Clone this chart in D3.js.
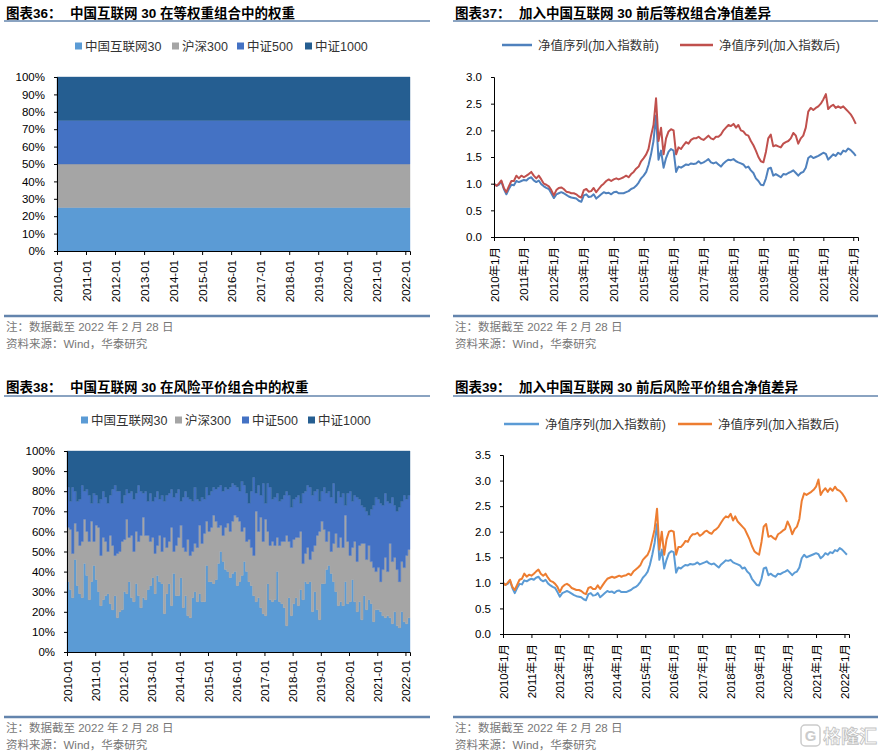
<!DOCTYPE html>
<html><head><meta charset="utf-8">
<script src="https://cdn.jsdelivr.net/npm/d3@7"></script>
<style>
body{margin:0;background:#fff}
svg{display:block}
text{font-family:"Liberation Sans","Noto Sans CJK SC",sans-serif}
</style>
</head><body>
<svg id="c" width="882" height="754"></svg>
<script>
// ---------------- DATA ----------------
const seriesNames = ["中国互联网30", "沪深300", "中证500", "中证1000"];
const tickLabelsDash = ["2010-01","2011-01","2012-01","2013-01","2014-01","2015-01","2016-01","2017-01","2018-01","2019-01","2020-01","2021-01","2022-01"];
const tickLabelsCn = ["2010年1月","2011年1月","2012年1月","2013年1月","2014年1月","2015年1月","2016年1月","2017年1月","2018年1月","2019年1月","2020年1月","2021年1月","2022年1月"];
const lineNames = ["净值序列(加入指数前)", "净值序列(加入指数后)"];

// Chart 36: equal-weight portfolio (start & end of period)
const eqDates = ["2010-01-01", "2022-03-01"];
const eqHlw30 = [25, 25];
const eqHs300 = [25, 25];
const eqZz500 = [25, 25];
const eqZz1000 = [25, 25];

// Chart 38: risk-parity weights (%), monthly 2010-01 .. 2022-02
const rpHlw30 = [
35,31,27,46,33,29,27,44,38,26,35,43,
36,30,23,26,28,29,24,21,28,17,20,21,
30,29,35,27,25,34,28,22,27,26,31,33,
37,29,38,35,34,19,29,34,23,39,28,28,
37,22,28,18,17,27,30,25,29,25,25,43,
35,35,34,36,44,50,45,41,40,37,39,40,
33,35,38,45,40,35,33,28,25,27,22,19,
18,34,26,25,26,40,25,24,22,13,27,18,
24,27,23,31,26,35,34,35,20,30,21,16,
34,34,41,43,39,35,30,23,25,23,35,24,
25,36,25,20,25,16,28,21,26,24,15,21,
21,20,18,17,18,17,14,20,13,12,20,15,
14,17];
const rpHs300 = [
27,30,22,18,27,24,28,22,22,29,30,12,
27,32,25,31,27,21,34,32,20,32,30,34,
26,37,22,31,25,26,27,36,40,32,27,22,
20,20,15,23,16,38,23,21,39,11,25,29,
26,30,22,38,31,23,24,27,34,29,34,22,
25,27,34,29,18,13,13,21,24,23,26,28,
34,30,22,17,15,21,19,20,45,33,45,36,
48,26,27,30,27,17,28,31,33,45,28,34,
32,30,34,29,18,14,18,11,30,23,37,44,
31,27,14,17,11,19,29,29,32,29,33,31,
23,16,30,25,28,38,26,25,27,21,27,19,
21,15,23,30,22,37,31,27,28,23,25,27,
34,34];
const rpZz500 = [
20,14,33,16,15,23,28,14,21,23,9,24,
15,12,28,23,22,24,20,28,35,31,30,19,
22,15,22,22,26,19,28,22,12,22,17,24,
18,28,27,18,28,18,26,24,19,27,26,24,
12,25,30,21,28,25,28,24,12,23,17,17,
18,18,14,16,20,20,22,20,17,22,19,15,
15,15,25,21,24,18,28,39,9,23,11,29,
8,24,29,21,24,22,22,21,23,22,23,20,
20,20,21,14,35,31,31,36,28,27,23,15,
15,21,24,20,27,30,15,28,20,27,5,24,
32,23,23,32,23,19,18,24,15,26,31,37,
34,39,32,32,35,20,32,26,29,37,30,36,
28,27];
const rpZz1000 = [
18,25,18,20,25,24,17,20,19,22,26,21,
22,26,24,20,23,26,22,19,17,20,20,26,
22,19,21,20,24,21,17,20,21,20,25,21,
25,23,20,24,22,25,22,21,19,23,21,19,
25,23,20,23,24,25,18,24,25,23,24,18,
22,20,18,19,18,17,20,18,19,18,16,17,
18,20,15,17,21,26,20,13,21,17,22,16,
26,16,18,24,23,21,25,24,22,20,22,28,
24,23,22,26,21,20,17,18,22,20,19,25,
20,18,21,20,23,16,26,20,23,21,27,21,
20,25,22,23,24,27,28,30,32,29,27,23,
24,26,27,21,25,26,23,27,30,28,25,22,
24,22];

// Chart 37: equal-weight NAV, monthly 2010-01 .. 2022-02
const eqNavBefore = [
1.00,0.96,0.98,1.04,0.90,0.80,0.90,0.98,0.97,1.05,1.03,1.05,
1.07,1.06,1.10,1.12,1.06,1.03,1.06,0.99,0.95,0.92,0.90,0.82,
0.73,0.80,0.82,0.84,0.82,0.79,0.76,0.74,0.73,0.72,0.68,0.66,
0.78,0.80,0.75,0.76,0.80,0.72,0.76,0.80,0.84,0.82,0.83,0.80,
0.84,0.85,0.82,0.82,0.82,0.84,0.86,0.90,0.92,0.96,1.02,1.10,
1.15,1.22,1.35,1.55,1.80,2.28,1.45,1.62,1.30,1.48,1.60,1.65,
1.62,1.22,1.32,1.30,1.33,1.36,1.35,1.38,1.37,1.38,1.42,1.38,
1.40,1.43,1.46,1.40,1.38,1.40,1.36,1.32,1.38,1.42,1.45,1.44,
1.46,1.42,1.40,1.38,1.36,1.30,1.32,1.25,1.20,1.10,1.05,0.98,
0.97,1.10,1.28,1.30,1.15,1.18,1.15,1.12,1.18,1.17,1.20,1.22,
1.25,1.20,1.15,1.20,1.22,1.30,1.48,1.52,1.48,1.50,1.52,1.55,
1.58,1.56,1.45,1.50,1.55,1.52,1.58,1.55,1.62,1.60,1.66,1.63,
1.58,1.52];
const eqNavAfter = [
1.00,0.96,1.00,1.06,0.92,0.84,0.95,1.05,1.05,1.15,1.10,1.15,
1.12,1.15,1.18,1.22,1.15,1.10,1.15,1.08,1.00,0.98,0.95,0.88,
0.78,0.88,0.92,0.93,0.90,0.85,0.84,0.82,0.82,0.80,0.76,0.74,
0.88,0.90,0.85,0.86,0.92,0.84,0.90,0.96,1.00,1.05,1.08,1.05,
1.08,1.10,1.08,1.10,1.12,1.15,1.12,1.18,1.22,1.28,1.32,1.42,
1.48,1.55,1.65,1.90,2.10,2.60,1.80,2.05,1.55,1.85,1.98,2.02,
2.00,1.55,1.68,1.65,1.72,1.78,1.75,1.82,1.85,1.85,1.88,1.84,
1.82,1.86,1.90,1.85,1.83,1.88,1.88,1.92,2.00,2.05,2.10,2.08,
2.12,2.05,2.10,2.00,1.98,1.92,1.90,1.80,1.72,1.62,1.50,1.42,
1.40,1.60,1.85,1.92,1.70,1.72,1.70,1.68,1.75,1.78,1.80,1.85,
1.95,1.90,1.75,1.85,1.90,2.05,2.35,2.42,2.38,2.42,2.45,2.50,
2.58,2.68,2.40,2.45,2.48,2.42,2.45,2.42,2.45,2.40,2.35,2.30,
2.22,2.12];

// Chart 39: risk-parity NAV, monthly 2010-01 .. 2022-02
const rpNavBefore = [
1.00,0.96,0.98,1.04,0.90,0.80,0.90,0.98,0.97,1.05,1.03,1.06,
1.08,1.06,1.10,1.12,1.06,1.03,1.06,0.99,0.95,0.92,0.90,0.82,
0.73,0.80,0.82,0.84,0.82,0.79,0.76,0.74,0.73,0.72,0.68,0.66,
0.78,0.80,0.75,0.76,0.80,0.72,0.76,0.80,0.84,0.82,0.83,0.80,
0.84,0.85,0.82,0.82,0.82,0.84,0.86,0.90,0.92,0.96,1.02,1.10,
1.15,1.22,1.35,1.55,1.78,2.15,1.45,1.65,1.28,1.45,1.58,1.62,
1.60,1.20,1.30,1.28,1.32,1.35,1.34,1.37,1.36,1.37,1.40,1.36,
1.38,1.40,1.42,1.38,1.36,1.38,1.34,1.30,1.36,1.40,1.44,1.43,
1.45,1.40,1.38,1.36,1.34,1.28,1.30,1.22,1.18,1.08,1.02,0.96,
0.95,1.08,1.28,1.30,1.15,1.18,1.14,1.12,1.18,1.17,1.20,1.22,
1.25,1.20,1.15,1.20,1.22,1.30,1.48,1.55,1.50,1.52,1.54,1.56,
1.58,1.56,1.48,1.52,1.58,1.55,1.60,1.58,1.64,1.62,1.68,1.65,
1.60,1.55];
const rpNavAfter = [
1.00,0.96,1.00,1.06,0.92,0.86,0.96,1.06,1.08,1.18,1.12,1.16,
1.14,1.18,1.22,1.26,1.18,1.14,1.18,1.10,1.04,1.02,0.98,0.92,
0.82,0.92,0.96,0.98,0.95,0.90,0.88,0.86,0.86,0.84,0.80,0.78,
0.90,0.92,0.88,0.88,0.95,0.88,0.95,1.02,1.08,1.10,1.12,1.10,
1.12,1.14,1.12,1.14,1.15,1.18,1.15,1.22,1.26,1.30,1.35,1.45,
1.50,1.55,1.65,1.85,2.05,2.45,1.65,2.00,1.55,1.85,2.00,2.02,
2.00,1.55,1.70,1.70,1.75,1.82,1.80,1.90,1.95,1.95,1.98,1.92,
1.95,2.00,2.02,1.98,1.96,2.02,2.05,2.10,2.18,2.25,2.30,2.28,
2.35,2.22,2.30,2.20,2.15,2.10,2.05,1.95,1.85,1.72,1.62,1.58,
1.55,1.80,2.10,2.15,1.90,1.92,1.88,1.85,1.95,1.98,2.02,2.05,
2.20,2.10,1.95,2.05,2.10,2.25,2.60,2.75,2.72,2.75,2.78,2.82,
2.88,3.02,2.72,2.80,2.85,2.78,2.85,2.80,2.88,2.82,2.80,2.75,
2.68,2.58];

// ---------------- SETUP ----------------
const stackColors = ["#5b9bd5", "#a5a5a5", "#4472c4", "#255e91"];
const ruleColor = "#6384ad";
const keys = ["hlw30", "hs300", "zz500", "zz1000"];
const parse = d3.timeParse("%Y-%m-%d");
const months = d3.timeMonth.range(new Date(2010, 0, 1), new Date(2022, 2, 1));
const yearTicks = tickLabelsDash.map(s => parse(s + "-01"));

const svg = d3.select("#c");
svg.append("rect").attr("width", 882).attr("height", 754).attr("fill", "#fff");

function header(x0, x1, yc, yRule, label, title) {
  svg.append("text").attr("x", x0 + 2).attr("y", yc + 5)
    .attr("font-size", 13.5).attr("font-weight", "bold").attr("fill", "#000").text(label);
  svg.append("text").attr("x", x0 + 66).attr("y", yc + 5)
    .attr("font-size", 13.5).attr("font-weight", "bold").attr("fill", "#000")
    .attr("xml:space", "preserve").text(title);
  svg.append("line").attr("x1", x0).attr("x2", x1).attr("y1", yRule).attr("y2", yRule)
    .attr("stroke", ruleColor).attr("stroke-width", 1.6);
}
function footer(x0, x1, yRule) {
  svg.append("line").attr("x1", x0).attr("x2", x1).attr("y1", yRule).attr("y2", yRule)
    .attr("stroke", ruleColor).attr("stroke-width", 2.6);
  svg.append("text").attr("x", x0 + 2).attr("y", yRule + 15).attr("font-size", 11.5)
    .attr("fill", "#777").text("注：数据截至 2022 年 2 月 28 日");
  svg.append("text").attr("x", x0 + 2).attr("y", yRule + 32).attr("font-size", 11.5)
    .attr("fill", "#777").text("资料来源：Wind，华泰研究");
}

function styleAxis(g) {
  g.selectAll(".domain").attr("stroke", "#000");
  g.selectAll(".tick line").attr("stroke", "#000");
  g.selectAll(".tick text").attr("fill", "#000").attr("font-size", 11.5)
    .attr("font-family", '"Liberation Sans",Arial,"Noto Sans CJK SC",sans-serif');
}

function xAxis(x, yBase, labels, gap) {
  const g = svg.append("g").attr("transform", `translate(0,${yBase})`)
    .call(d3.axisBottom(x).tickValues(yearTicks).tickSize(4).tickFormat((d, i) => labels[i]));
  styleAxis(g);
  g.selectAll(".tick text").attr("y", null).attr("dy", "0.35em").attr("x", -gap)
    .attr("transform", "rotate(-90)").attr("text-anchor", "end");
  return g;
}
function yAxis(y, xBase, ticks, fmt) {
  const g = svg.append("g").attr("transform", `translate(${xBase},0)`)
    .call(d3.axisLeft(y).tickValues(ticks).tickSize(3).tickPadding(9).tickFormat(fmt));
  styleAxis(g);
  return g;
}

function stackLegend(xs, yc) {
  seriesNames.forEach((n, i) => {
    svg.append("rect").attr("x", xs[i]).attr("y", yc - 3.5).attr("width", 7).attr("height", 7)
      .attr("fill", stackColors[i]);
    svg.append("text").attr("x", xs[i] + 10).attr("y", yc + 4.5).attr("font-size", 12.5)
      .attr("fill", "#333").text(n);
  });
}
function lineLegend(segs, yc, colors) {
  lineNames.forEach((n, i) => {
    svg.append("line").attr("x1", segs[i][0]).attr("x2", segs[i][1]).attr("y1", yc).attr("y2", yc)
      .attr("stroke", colors[i]).attr("stroke-width", 2.5);
    svg.append("text").attr("x", segs[i][1] + 6).attr("y", yc + 4.5).attr("font-size", 12.5)
      .attr("fill", "#333").text(n);
  });
}

function stackChart(rows, box, curve) {
  const x = d3.scaleTime().domain([new Date(2010, 0, 1), new Date(2022, 2, 1)]).range([box.x0, box.x1]);
  const y = d3.scaleLinear().domain([0, 100]).range([box.y1, box.y0]);
  const layers = d3.stack().keys(keys)(rows);
  const area = d3.area().x(d => x(d.data.date)).y0(d => y(d[0])).y1(d => y(d[1])).curve(curve);
  svg.append("g").selectAll("path").data(layers).join("path")
    .attr("d", area).attr("fill", (d, i) => stackColors[i])
    .attr("stroke", (d, i) => stackColors[i]).attr("stroke-width", 0.4);
  yAxis(y, box.x0, d3.range(0, 101, 10), d => d + "%");
  xAxis(x, box.y1, tickLabelsDash, box.gap);
}

function lineChart(a, b, colors, box, yMax) {
  const x = d3.scaleTime().domain([new Date(2010, 0, 1), new Date(2022, 1, 28)]).range([box.x0, box.x1]);
  const y = d3.scaleLinear().domain([0, yMax]).range([box.y1, box.y0]);
  const line = d3.line().x((d, i) => x(months[i])).y(d => y(d));
  [a, b].forEach((s, i) => {
    svg.append("path").datum(s).attr("d", line).attr("fill", "none")
      .attr("stroke", colors[i]).attr("stroke-width", 2).attr("stroke-linejoin", "round");
  });
  yAxis(y, box.x0, d3.range(0, yMax + 0.01, 0.5), d3.format(".1f"));
  xAxis(x, box.y1, tickLabelsCn, box.gap);
}

// ---------- Chart 36 ----------
header(4, 430, 13, 21, "图表36：", "中国互联网 30 在等权重组合中的权重");
stackLegend([75, 172, 237, 305], 46);
const eqRows = eqDates.map((d, i) => ({date: parse(d), hlw30: eqHlw30[i], hs300: eqHs300[i], zz500: eqZz500[i], zz1000: eqZz1000[i]}));
stackChart(eqRows, {x0: 57, x1: 410, y0: 77, y1: 251, gap: 9}, d3.curveStepAfter);
footer(4, 430, 316);

// ---------- Chart 37 ----------
header(453, 878, 13, 21, "图表37：", "加入中国互联网 30 前后等权组合净值差异");
lineLegend([[502, 532], [680, 713]], 45, ["#4f81bd", "#c0504d"]);
lineChart(eqNavBefore, eqNavAfter, ["#4f81bd", "#c0504d"], {x0: 494, x1: 858, y0: 77, y1: 237, gap: 10}, 3.0);
footer(453, 878, 316);

// ---------- Chart 38 ----------
header(4, 430, 387, 396, "图表38：", "中国互联网 30 在风险平价组合中的权重");
stackLegend([81, 175, 242, 308], 420);
const rpRows = months.map((d, i) => ({date: d, hlw30: rpHlw30[i], hs300: rpHs300[i], zz500: rpZz500[i], zz1000: rpZz1000[i]}));
rpRows.push(Object.assign({}, rpRows[rpRows.length - 1], {date: new Date(2022, 2, 1)}));
stackChart(rpRows, {x0: 67, x1: 410, y0: 451, y1: 652, gap: 8}, d3.curveStepAfter);
footer(4, 430, 717);

// ---------- Chart 39 ----------
header(453, 878, 387, 396, "图表39：", "加入中国互联网 30 前后风险平价组合净值差异");
lineLegend([[504, 539], [678, 712]], 424, ["#5b9bd5", "#ed7d31"]);
lineChart(rpNavBefore, rpNavAfter, ["#5b9bd5", "#ed7d31"], {x0: 503, x1: 849, y0: 455, y1: 634, gap: 10}, 3.5);
footer(453, 878, 717);

// watermark
const wm = svg.append("g").attr("opacity", 0.6);
wm.append("rect").attr("x", 801).attr("y", 725).attr("width", 19).attr("height", 21).attr("rx", 4)
  .attr("fill", "none").attr("stroke", "#aaa").attr("stroke-width", 1.5);
wm.append("text").attr("x", 810.5).attr("y", 741).attr("text-anchor", "middle").attr("font-size", 15)
  .attr("font-weight", "bold").attr("fill", "#aaa").text("G");
wm.append("text").attr("x", 823).attr("y", 743).attr("font-size", 18).attr("font-weight", "bold")
  .attr("fill", "#fff").attr("stroke", "#999").attr("stroke-width", 0.8).text("格隆汇");
</script>
</body></html>
